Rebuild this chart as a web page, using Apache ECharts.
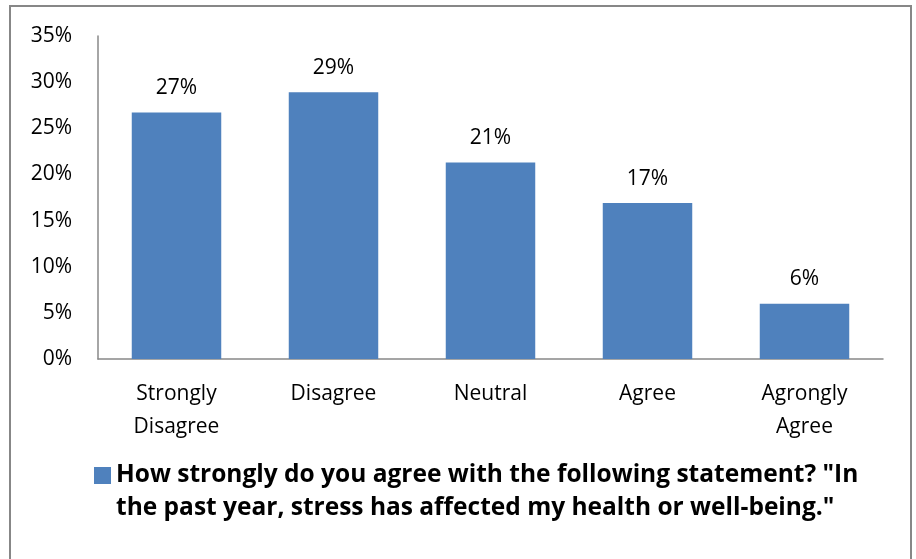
<!DOCTYPE html>
<html>
<head>
<meta charset="utf-8">
<script src="https://cdn.jsdelivr.net/npm/echarts@6/dist/echarts.min.js"></script>
<style>
  html, body { margin: 0; padding: 0; background: #fff; }
  #chart { width: 916px; height: 559px; }
</style>
</head>
<body>
<div id="chart"></div>
<script>
// Survey responses, share of respondents (%)
const categories = ['Strongly Disagree', 'Disagree', 'Neutral', 'Agree', 'Agrongly Agree'];
const shares = [26.7, 28.9, 21.3, 16.9, 6.0];
const yTicks = [0, 5, 10, 15, 20, 25, 30, 35];
const seriesName = 'How strongly do you agree with the following statement? "In the past year, stress has affected my health or well-being."';
const legendLines = [
  'How strongly do you agree with the following statement? "In',
  'the past year, stress has affected my health or well-being."'
];

const FONT = '"Open Sans", "Liberation Sans", sans-serif';
const BAR_COLOR = '#4F81BD';
const AXIS_COLOR = '#888888';

const chart = echarts.init(document.getElementById('chart'), null, { renderer: 'canvas' });

chart.setOption({
  animation: false,
  backgroundColor: '#ffffff',
  textStyle: { fontFamily: FONT },
  graphic: [{
    type: 'rect',
    shape: { x: 10, y: 6, width: 901, height: 560 },
    style: { fill: 'none', stroke: '#878787', lineWidth: 2 },
    silent: true
  }],
  grid: { left: 98, right: 33, top: 36, bottom: 200, containLabel: false },
  legend: {
    left: 89,
    top: 421,
    itemWidth: 17,
    itemHeight: 17,
    itemGap: 0,
    icon: 'rect',
    selectedMode: false,
    data: [seriesName],
    // blank first line keeps the swatch level with the first text line
    formatter: () => '\u00a0\n' + legendLines.join('\n'),
    textStyle: {
      fontFamily: FONT,
      fontSize: 24.5,
      fontWeight: 'bold',
      color: '#000',
      lineHeight: 33
    }
  },
  xAxis: {
    type: 'category',
    data: categories,
    axisLine: { lineStyle: { color: AXIS_COLOR, width: 1.5 } },
    axisTick: { show: false },
    axisLabel: {
      interval: 0,
      margin: 19,
      color: '#000',
      fontSize: 21,
      lineHeight: 33,
      fontFamily: FONT,
      formatter: (v) => v.replace(' ', '\n')
    }
  },
  yAxis: {
    type: 'value',
    min: yTicks[0],
    max: yTicks[yTicks.length - 1],
    interval: 5,
    splitLine: { show: false },
    axisLine: { show: true, lineStyle: { color: AXIS_COLOR, width: 1.5 } },
    axisTick: { show: false },
    axisLabel: {
      margin: 26,
      color: '#000',
      fontSize: 21,
      fontFamily: FONT,
      formatter: (v) => v + '%'
    }
  },
  series: [{
    name: seriesName,
    type: 'bar',
    data: shares,
    barWidth: '57%',
    itemStyle: { color: BAR_COLOR },
    label: {
      show: true,
      position: 'top',
      distance: 14,
      color: '#000',
      fontSize: 21,
      fontFamily: FONT,
      formatter: (p) => Math.round(p.value) + '%'
    }
  }]
});
</script>
</body>
</html>
